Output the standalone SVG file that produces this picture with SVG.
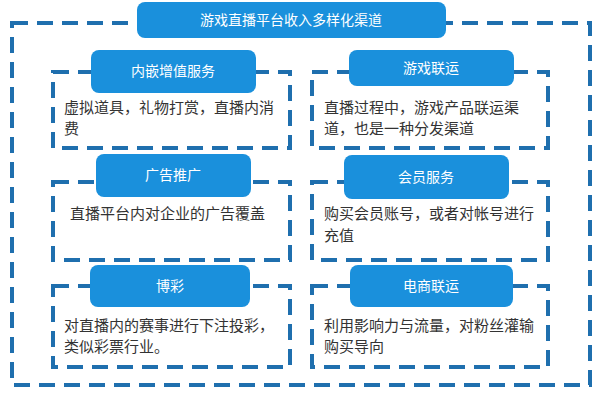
<svg xmlns="http://www.w3.org/2000/svg" width="605" height="400" viewBox="0 0 605 400">
<style>
.d{fill:none;stroke:#1f6fae;stroke-width:4;stroke-dasharray:16 9}
.b{fill:#1a90dc}
.l{font-family:"Noto Sans CJK SC",sans-serif;font-size:14px;fill:#fff;text-anchor:middle}
.t{font-family:"Noto Sans CJK SC",sans-serif;font-size:15px;fill:#333}
</style>
<rect width="605" height="400" fill="#fff"/>
<g id="outer"><rect class="d" x="12" y="23" width="578" height="362"/>
<rect class="b" x="137" y="2" width="309" height="36" rx="8"/><text class="l" x="291" y="25">游戏直播平台收入多样化渠道</text></g>
<g id="n1"><rect class="d" x="53" y="72" width="237" height="76"/><rect class="b" x="91" y="50" width="165" height="43" rx="8"/><text class="l" x="173" y="76">内嵌增值服务</text>
<text class="t" x="64" y="113">虚拟道具，礼物打赏，直播内消</text><text class="t" x="64" y="134">费</text></g>
<g id="n2"><rect class="d" x="312" y="72" width="236" height="76"/><rect class="b" x="349" y="50" width="165" height="36" rx="8"/><text class="l" x="431" y="73">游戏联运</text>
<text class="t" x="324" y="113">直播过程中，游戏产品联运渠</text><text class="t" x="324" y="134">道，也是一种分发渠道</text></g>
<g id="n3"><rect class="d" x="53" y="182" width="237" height="78"/><rect class="b" x="96" y="154" width="155" height="43" rx="8"/><text class="l" x="173" y="180">广告推广</text>
<text class="t" x="70" y="219">直播平台内对企业的广告覆盖</text></g>
<g id="n4"><rect class="d" x="312" y="182" width="236" height="78"/><rect class="b" x="344" y="155" width="165" height="44" rx="8"/><text class="l" x="426" y="182">会员服务</text>
<text class="t" x="324" y="219">购买会员账号，或者对帐号进行</text><text class="t" x="324" y="241">充值</text></g>
<g id="n5"><rect class="d" x="53" y="286" width="237" height="81"/><rect class="b" x="90" y="265" width="160" height="42" rx="8"/><text class="l" x="170" y="291">博彩</text>
<text class="t" x="64" y="331">对直播内的赛事进行下注投彩，</text><text class="t" x="64" y="352">类似彩票行业。</text></g>
<g id="n6"><rect class="d" x="312" y="286" width="236" height="81"/><rect class="b" x="350" y="265" width="163" height="42" rx="8"/><text class="l" x="431" y="291">电商联运</text>
<text class="t" x="324" y="331">利用影响力与流量，对粉丝灌输</text><text class="t" x="324" y="352">购买导向</text></g>
<g id="connectors"/>
</svg>
